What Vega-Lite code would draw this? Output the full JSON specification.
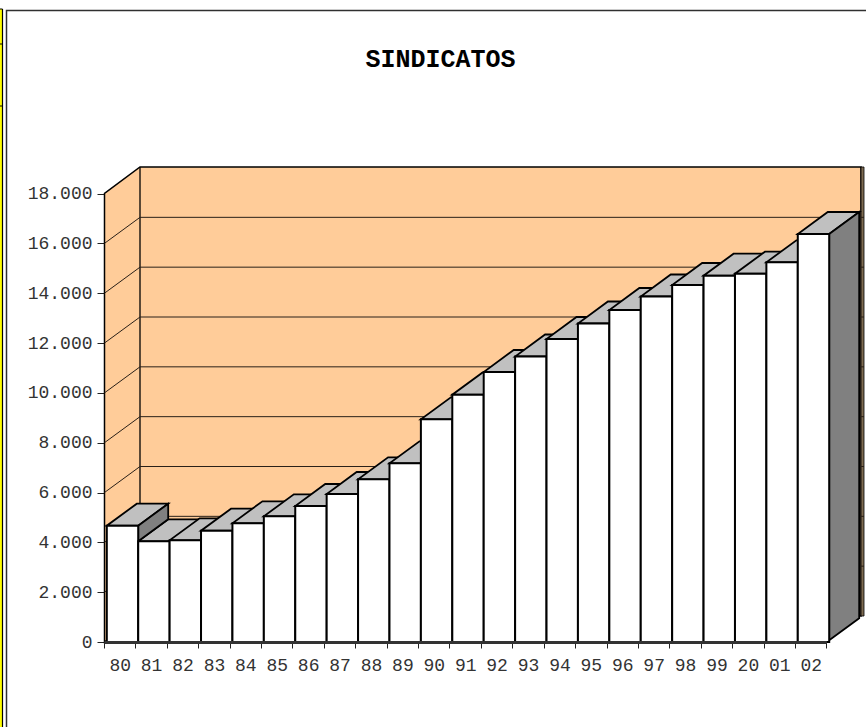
{"$schema":"https://vega.github.io/schema/vega-lite/v6.json","width":760,"height":475,"autosize":"none","padding":{"left":104,"top":167,"right":2,"bottom":85},"background":"white","title":{"text":"SINDICATOS","font":"Liberation Mono","fontWeight":"bold","fontSize":25,"color":"#000000","anchor":"middle","frame":"group","dx":-43.5,"offset":-65},"config":{"view":{"stroke":null}},"datasets":{"bars":[{"year":"80","value":4600},{"year":"81","value":3973},{"year":"82","value":4013},{"year":"83","value":4399},{"year":"84","value":4696},{"year":"85","value":4977},{"year":"86","value":5390},{"year":"87","value":5871},{"year":"88","value":6461},{"year":"89","value":7104},{"year":"90","value":8870},{"year":"91","value":9857},{"year":"92","value":10768},{"year":"93","value":11390},{"year":"94","value":12092},{"year":"95","value":12714},{"year":"96","value":13256},{"year":"97","value":13798},{"year":"98","value":14259},{"year":"99","value":14633},{"year":"20","value":14713},{"year":"01","value":15170},{"year":"02","value":16306}],"ticks":[{"tick":2000},{"tick":4000},{"tick":6000},{"tick":8000},{"tick":10000},{"tick":12000},{"tick":14000},{"tick":16000}],"one":[{"tick":0}]},"layer":[
{"data":{"name":"one"},"mark":{"type":"point","filled":true,"size":4,"opacity":1,"fill":"#FFFF00","shape":"M-104,-633H-101.5V85H-104Z"},"encoding":{"x":{"datum":"80","type":"nominal","bandPosition":0,"scale":{"domain":["80","81","82","83","84","85","86","87","88","89","90","91","92","93","94","95","96","97","98","99","20","01","02"],"range":[0,722.4],"paddingInner":0,"paddingOuter":0},"axis":{"title":null,"tickBand":"extent","labelAngle":0,"labelFont":"Liberation Mono","labelFontSize":18,"labelColor":"#333333","labelPadding":8,"tickColor":"#222222","tickSize":6,"domainColor":"#333333","domainWidth":3,"zindex":1}},"y":{"field":"tick","type":"quantitative","scale":{"domain":[0,18000],"range":[475,26.5]},"axis":{"title":null,"values":[0,2000,4000,6000,8000,10000,12000,14000,16000,18000],"labelExpr":"replace(format(datum.value,','),',','.')","labelFont":"Liberation Mono","labelFontSize":18,"labelColor":"#333333","labelPadding":5,"tickColor":"#222222","tickSize":7,"domain":false,"grid":false}}}},
{"data":{"name":"one"},"mark":{"type":"point","filled":false,"size":4,"opacity":1,"stroke":"#000000","strokeWidth":1.2,"shape":"M-101.5,85V-633M-104,-633H-101.5M-104,-598H-102M-104,-536H-102"},"encoding":{"x":{"datum":"80","type":"nominal","bandPosition":0},"y":{"field":"tick","type":"quantitative"}}},
{"data":{"name":"one"},"mark":{"type":"point","filled":false,"size":4,"opacity":1,"stroke":"#303030","strokeWidth":1.5,"shape":"M-97.5,85V-631.5H762"},"encoding":{"x":{"datum":"80","type":"nominal","bandPosition":0},"y":{"field":"tick","type":"quantitative"}}},
{"data":{"name":"one"},"mark":{"type":"point","filled":true,"size":4,"opacity":1,"fill":"#FFCC99","stroke":"#000000","strokeWidth":1.5,"shape":"M0.5,0L36,-26L757,-26L757,-475L36,-475L0.5,-448.5Z"},"encoding":{"x":{"datum":"80","type":"nominal","bandPosition":0},"y":{"field":"tick","type":"quantitative"}}},
{"data":{"name":"one"},"mark":{"type":"point","filled":true,"size":4,"opacity":1,"fill":"#7D6A50","stroke":"#000000","strokeWidth":0.8,"shape":"M757,-26H760V-475H757Z"},"encoding":{"x":{"datum":"80","type":"nominal","bandPosition":0},"y":{"field":"tick","type":"quantitative"}}},
{"data":{"name":"one"},"mark":{"type":"point","filled":false,"size":4,"opacity":1,"stroke":"#000000","strokeWidth":1.3,"shape":"M36,-26V-475"},"encoding":{"x":{"datum":"80","type":"nominal","bandPosition":0},"y":{"field":"tick","type":"quantitative"}}},
{"data":{"name":"ticks"},"mark":{"type":"point","filled":false,"size":4,"opacity":1,"stroke":"#2a2018","strokeWidth":1,"shape":"M0.5,0L36,-26L760,-26"},"encoding":{"x":{"datum":"80","type":"nominal","bandPosition":0},"y":{"field":"tick","type":"quantitative"}}},
{"data":{"name":"bars"},"mark":{"type":"point","filled":true,"size":4,"opacity":1,"fill":"#C0C0C0","stroke":"#000000","strokeWidth":1.8,"xOffset":2.8,"yOffset":-1.7,"shape":"M0,0L31.4,0L61.4,-22L30,-22Z"},"encoding":{"x":{"field":"year","type":"nominal","sort":null,"bandPosition":0},"y":{"field":"value","type":"quantitative"}}},
{"data":{"name":"bars"},"transform":[{"filter":"datum.year=='80'"}],"mark":{"type":"point","filled":true,"size":4,"opacity":1,"fill":"#808080","stroke":"#000000","strokeWidth":1.8,"xOffset":2.8,"yOffset":-1.7,"shape":"M31.4,0L61.4,-22L61.4,-6.4L31.4,15.6Z"},"encoding":{"x":{"field":"year","type":"nominal","sort":null,"bandPosition":0},"y":{"field":"value","type":"quantitative"}}},
{"data":{"name":"bars"},"transform":[{"filter":"datum.year=='02'"}],"mark":{"type":"point","filled":true,"size":4,"opacity":1,"fill":"#808080","stroke":"#000000","strokeWidth":1.8,"xOffset":2.8,"yOffset":-1.7,"shape":"M31.4,0L61.4,-22L61.4,384.3L31.4,406.3Z"},"encoding":{"x":{"field":"year","type":"nominal","sort":null,"bandPosition":0},"y":{"field":"value","type":"quantitative"}}},
{"data":{"name":"bars"},"mark":{"type":"bar","fill":"#FFFFFF","stroke":"#000000","strokeWidth":2,"xOffset":2.8,"yOffset":-1.7},"encoding":{"x":{"field":"year","type":"nominal","sort":null},"y":{"field":"value","type":"quantitative","stack":null}}}
]}
